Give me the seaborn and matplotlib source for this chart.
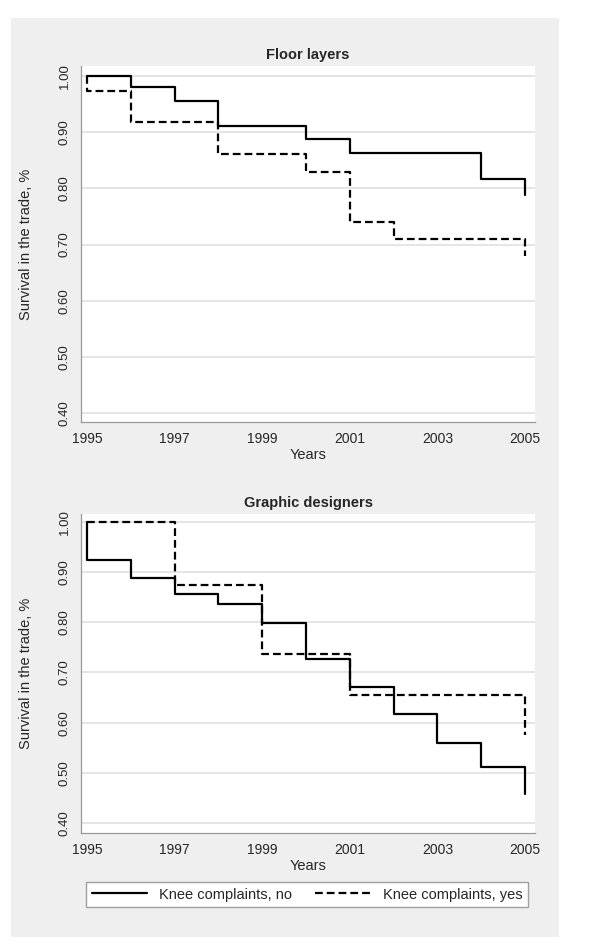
import matplotlib
matplotlib.use("Agg")
import matplotlib.pyplot as plt
import seaborn as sns
from matplotlib.patches import Rectangle
from matplotlib.lines import Line2D

# Kaplan-Meier steps (value holds from that year on)
floor_no_years = [1995, 1996, 1997, 1998, 2000, 2001, 2004, 2005]
floor_no_surv = [1.000, 0.980, 0.956, 0.911, 0.888, 0.863, 0.816, 0.789]
floor_yes_years = [1995, 1995, 1996, 1998, 2000, 2001, 2002, 2005]
floor_yes_surv = [1.000, 0.973, 0.918, 0.861, 0.830, 0.741, 0.710, 0.680]

graph_no_years = [1995, 1995, 1996, 1997, 1998, 1999, 2000, 2001, 2002, 2003, 2004, 2005]
graph_no_surv = [1.000, 0.924, 0.889, 0.856, 0.837, 0.799, 0.726, 0.672, 0.618, 0.560, 0.511, 0.458]
graph_yes_years = [1995, 1997, 1999, 2001, 2005]
graph_yes_surv = [1.000, 0.875, 0.737, 0.656, 0.576]

x_ticks = [1995, 1997, 1999, 2001, 2003, 2005]
y_ticks = [0.40, 0.50, 0.60, 0.70, 0.80, 0.90, 1.00]
titles = ["Floor layers", "Graphic designers"]
labels = ["Knee complaints, no", "Knee complaints, yes"]

sns.set_style("white")
plt.rcParams["font.family"] = ["Liberation Sans", "DejaVu Sans"]

W, H = 600, 947
fig = plt.figure(figsize=(W / 100, H / 100), dpi=100)
fig.patch.set_facecolor("white")

# grey Stata-like background, kept behind the axes
fig.patches.append(Rectangle((11 / W, 1 - 937 / H), 548 / W, 919 / H,
                             transform=fig.transFigure, facecolor="#efefef",
                             edgecolor="none", zorder=-10))

dash = (0, (3.5, 1.8))
ax1 = fig.add_axes([81 / W, 1 - 422 / H, 454 / W, 356 / H])
ax2 = fig.add_axes([81 / W, 1 - 833 / H, 454 / W, 319 / H])

panels = [
    (ax1, floor_no_years, floor_no_surv, floor_yes_years, floor_yes_surv, (0.384, 1.018)),
    (ax2, graph_no_years, graph_no_surv, graph_yes_years, graph_yes_surv, (0.380, 1.016)),
]

for (ax, xn, yn, xy, yy, ylim), title in zip(panels, titles):
    ax.set_facecolor("white")
    sns.lineplot(x=xn, y=yn, estimator=None, sort=False, drawstyle="steps-post",
                 color="black", lw=1.6, ax=ax)
    sns.lineplot(x=xy, y=yy, estimator=None, sort=False, drawstyle="steps-post",
                 color="black", lw=1.6, linestyle=dash, ax=ax)
    ax.set_xlim(1994.863, 2005.228)
    ax.set_ylim(*ylim)
    ax.set_xticks(x_ticks)
    ax.set_yticks(y_ticks)
    ax.set_yticklabels([f"{v:.2f}" for v in y_ticks], rotation=90, va="center")
    ax.grid(axis="y", color="#e3e3e3", lw=1.3)
    ax.set_axisbelow(True)
    for s in ["top", "right"]:
        ax.spines[s].set_visible(False)
    for s in ["left", "bottom"]:
        ax.spines[s].set_color("#9a9a9a")
        ax.spines[s].set_linewidth(0.9)
    ax.tick_params(direction="out", length=4.5, width=0.8, color="#8c8c8c", pad=3)
    ax.tick_params(axis="x", labelsize=10)
    ax.tick_params(axis="y", labelsize=9.5)
    ax.set_title(title, fontsize=10.5, fontweight="bold", pad=5)
    ax.set_xlabel("Years", fontsize=10.5, labelpad=1)
    ax.set_ylabel("Survival in the trade, %", fontsize=10.5)
    ax.yaxis.set_label_coords(-0.106, 0.5)

handles = [Line2D([], [], color="black", lw=1.6),
           Line2D([], [], color="black", lw=1.6, linestyle=dash)]
fig.legend(handles, labels, loc="center", ncol=2, mode="expand",
           bbox_to_anchor=(86 / W, 1 - 908 / H, 442 / W, 27 / H),
           frameon=True, fancybox=False, edgecolor="#a0a0a0", facecolor="white",
           framealpha=1, fontsize=10.5, handlelength=3.8, borderaxespad=0)

fig.savefig("out.png", dpi=100)
